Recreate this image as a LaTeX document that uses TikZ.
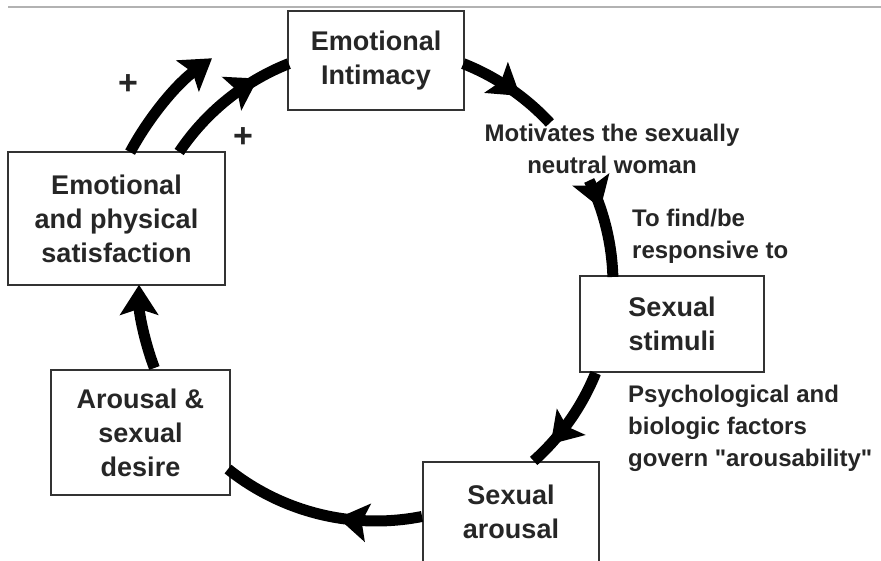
\documentclass[tikz,border=0pt]{standalone}
\usepackage{fontspec}
\setmainfont{Liberation Sans}
\newfontfamily\qfont{Liberation Sans}[Ligatures=ResetAll]
\newcommand{\sq}{{\qfont\char34}}
\usetikzlibrary{arrows.meta,decorations.markings,calc}
\begin{document}
\begin{tikzpicture}[x=1pt,y=-1pt,
  box/.style={draw=black!80, line width=2pt, fill=white, text=black!85,
    font=\fontsize{27}{34}\selectfont\bfseries, align=center, inner sep=0pt},
  note/.style={text=black!85, font=\fontsize{24}{32}\selectfont\bfseries, inner sep=0pt},
  plus/.style={text=black!85, font=\fontsize{34}{36}\selectfont\bfseries, inner sep=0pt},
  cyc/.style={line width=11pt, black},
  tipx/.tip={Stealth[length=30pt,width=38pt,inset=6pt]},
  midarrow/.style={postaction={decorate},
    decoration={markings, mark=at position #1 with {\arrow{tipx}}}}
]
\useasboundingbox (0,0) rectangle (881,561);
\fill[white] (0,0) rectangle (881,561);
\draw[black!30, line width=1.5pt] (8,7) -- (881,7);

\coordinate (C) at (376,284);

% boxes
\node[box, minimum width=176pt, minimum height=99pt] (ei) at (376,60.5) {Emotional\\Intimacy};
\node[box, minimum width=217pt, minimum height=133pt] (sat) at (116.5,218.5) {Emotional\\and physical\\satisfaction};
\node[box, minimum width=184pt, minimum height=96pt] (stim) at (672,324) {Sexual\\stimuli};
\node[box, minimum width=179pt, minimum height=125pt] (des) at (140.5,432.5) {Arousal \&\\sexual\\desire};
\node[box, minimum width=176pt, minimum height=100pt] (sa) at (511,512) {Sexual\\arousal};

% arc end points on the cycle
\coordinate (f0) at ($(C)+(-146.15:237)$);
\coordinate (g0) at ($(C)+(-151.8:279)$);
\coordinate (a0) at ($(C)+(-68.4:237)$);
\coordinate (b0) at ($(C)+(-25.9:237)$);
\coordinate (c0) at ($(C)+(22.06:237)$);
\coordinate (d0) at ($(C)+(78.8:237)$);
\coordinate (e0) at ($(C)+(159.24:237)$);

% connectors
\draw[cyc, midarrow=0.76] (f0) arc[start angle=-146.15, end angle=-111.6, radius=237];
\draw[cyc, -{tipx}] (g0) arc[start angle=-151.8, end angle=-126, radius=279];
\draw[cyc, midarrow=0.62] (a0) arc[start angle=-68.4, end angle=-42.8, radius=237];
\draw[cyc, midarrow=0.3] (b0) arc[start angle=-25.9, end angle=-1.7, radius=237];
\draw[cyc, midarrow=0.78] (c0) arc[start angle=22.06, end angle=48.3, radius=237];
\draw[cyc, midarrow=0.41] (d0) arc[start angle=78.8, end angle=128.65, radius=237];
\draw[cyc, -{tipx}] (e0) arc[start angle=159.24, end angle=179.8, radius=237];

% plus signs
\node[plus] (p1) at (128,85) {+};
\node[plus] (p2) at (243,138) {+};

% notes
\node[note, align=center] (n1) at (612,149) {Motivates the sexually\\neutral woman};
\node[note, align=left, anchor=west] (n2) at (632,236) {To find/be\\responsive to};
\node[note, align=left, anchor=west] (n3) at (628,428.5) {Psychological and\\biologic factors\\govern \sq arousability\sq};
\end{tikzpicture}
\end{document}
